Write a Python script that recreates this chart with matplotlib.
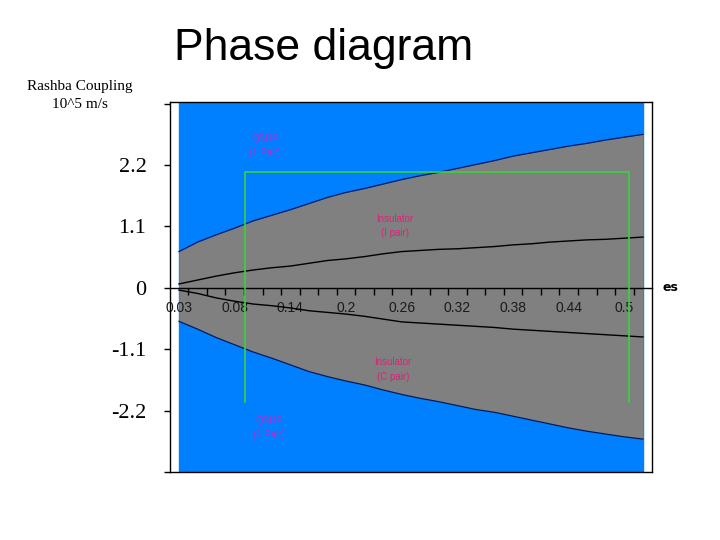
import numpy as np
import matplotlib
matplotlib.use("Agg")
import matplotlib.pyplot as plt

# category axis (26 sampled points), labels every third category
x_labels = ["0.03", "0.08", "0.14", "0.2", "0.26", "0.32", "0.38", "0.44", "0.5"]
n_points = 26

# QSHE / insulator boundaries (Rashba coupling, 10^5 m/s)
upper_edge = [0.65, 0.82, 0.95, 1.07, 1.20, 1.30, 1.40, 1.51, 1.62, 1.71,
              1.78, 1.86, 1.94, 2.01, 2.07, 2.14, 2.21, 2.28, 2.36, 2.42,
              2.48, 2.54, 2.59, 2.65, 2.70, 2.75]
lower_edge = [-0.60, -0.74, -0.89, -1.02, -1.15, -1.26, -1.38, -1.50, -1.59, -1.67,
              -1.74, -1.83, -1.91, -1.98, -2.04, -2.11, -2.18, -2.23, -2.30, -2.37,
              -2.44, -2.51, -2.57, -2.62, -2.67, -2.71]
# inner lines separating the insulator phases
upper_mid = [0.07, 0.14, 0.21, 0.27, 0.32, 0.36, 0.39, 0.44, 0.49, 0.52,
             0.56, 0.61, 0.65, 0.67, 0.69, 0.70, 0.72, 0.74, 0.77, 0.79,
             0.82, 0.84, 0.86, 0.87, 0.89, 0.91]
lower_mid = [-0.04, -0.10, -0.18, -0.24, -0.29, -0.32, -0.36, -0.41, -0.44, -0.47,
             -0.51, -0.56, -0.61, -0.63, -0.65, -0.67, -0.69, -0.71, -0.74, -0.76,
             -0.78, -0.80, -0.82, -0.84, -0.86, -0.88]

y_ticks = [-3.3, -2.2, -1.1, 0, 1.1, 2.2, 3.3]
y_ticklabels = ["", "-2.2", "-1.1", "0", "1.1", "2.2", ""]

# highlighted window (open at the bottom)
box_x = [3.56, 24.25]
box_y = [-2.04, 2.07]

# phase labels: (x, y, text, colour)
phase_labels = [
    (4.63, 2.54, "QSHE\n(1 Pair)", "#b030d0"),
    (11.64, 1.11, "Insulator\n(I pair)", "#e0207a"),
    (11.53, -1.46, "Insulator\n(C pair)", "#e0207a"),
    (4.85, -2.51, "QSHE\n(1 Pair)", "#b030d0"),
]

blue = "#0080ff"
grey = "#808080"

fig = plt.figure(figsize=(7.2, 5.4), dpi=100)
ax = fig.add_axes([0.2361, 0.1259, 0.6694, 0.6852])

x = np.arange(n_points)
ax.axvspan(x[0], x[-1], color=blue, zorder=0)
ax.fill_between(x, lower_edge, upper_edge, color=grey, lw=0, zorder=1)
ax.plot(x, upper_edge, color="#001a66", lw=0.9, zorder=2)
ax.plot(x, lower_edge, color="#001a66", lw=0.9, zorder=2)
ax.plot(x, upper_mid, color="black", lw=1.0, zorder=2)
ax.plot(x, lower_mid, color="black", lw=1.0, zorder=2)

ax.plot([box_x[0], box_x[0], box_x[1], box_x[1]],
        [box_y[0], box_y[1], box_y[1], box_y[0]],
        color="#3cd23c", lw=1.2, zorder=3)

for px, py, txt, col in phase_labels:
    ax.text(px, py, txt, color=col, fontsize=7, family="Liberation Sans",
            ha="center", va="center", linespacing=1.6, zorder=4)

ax.set_xlim(-0.485, 25.485)
ax.set_ylim(-3.3, 3.33)

# x axis runs through zero
ax.spines["bottom"].set_position(("data", 0))
ax.spines["bottom"].set_linewidth(1.0)
ax.set_xticks(np.arange(0, 25, 3))
ax.set_xticklabels(x_labels, family="Liberation Sans", fontsize=10, color="#1a1a1a")
ax.set_xticks(np.arange(0.5, 25, 1.0), minor=True)
ax.tick_params(axis="x", which="major", length=0, pad=9.5)
ax.tick_params(axis="x", which="minor", length=5, direction="out", width=1.0)

ax.set_yticks(y_ticks)
ax.set_yticklabels(y_ticklabels, family="Liberation Serif", fontsize=16)
ax.tick_params(axis="y", length=4, width=1.0, pad=13)

for side in ["left", "right", "top"]:
    ax.spines[side].set_linewidth(1.0)
# bottom frame line (the bottom spine is used for the zero axis)
ax.plot([0, 1], [0, 0], transform=ax.transAxes, color="black", lw=1.0, clip_on=False)

ax.text(1.022, 0, "es", transform=ax.get_yaxis_transform(), fontsize=9,
        fontweight="bold", family="DejaVu Sans", va="center", ha="left")

fig.text(0.45, 0.889, "Phase diagram", family="Liberation Sans", fontsize=32,
         ha="center", va="baseline")
fig.text(0.111, 0.823, "Rashba Coupling\n10^5 m/s", family="Liberation Serif",
         fontsize=11, ha="center", va="center", linespacing=1.45)

fig.savefig("out.png", dpi=100)
